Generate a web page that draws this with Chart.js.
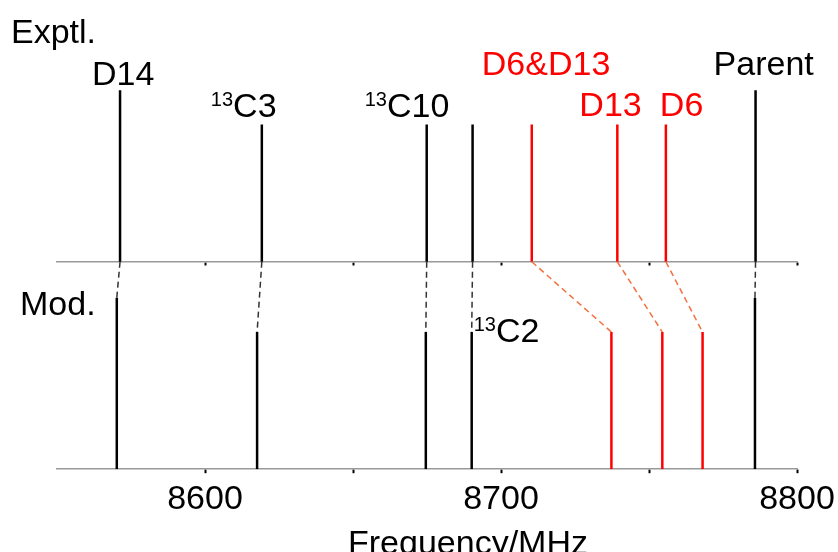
<!DOCTYPE html>
<html lang="en">
<head>
    <meta charset="UTF-8">
    <title>Exptl. vs Mod.</title>
    <script src="https://cdn.jsdelivr.net/npm/chart.js"></script>
    <style>
        html, body {
            margin: 0;
            padding: 0;
            background: #fff;
        }
        #wrap {
            width: 838px;
            height: 552px;
        }
    </style>
</head>
<body>
    <div id="wrap">
        <canvas id="spectrum" width="838" height="552"></canvas>
    </div>

    <script>
        // Line names, frequencies (MHz) and relative intensities
        const lineNames = ['D14', '13C3', '13C10', '13C2', 'D6&D13', 'D13', 'D6', 'Parent'];
        const exptFreq = [8571.3, 8619.2, 8674.9, 8690.4, 8710.4, 8739.3, 8755.7, 8786.0];
        const exptInt = [1.0, 0.8, 0.8, 0.8, 0.8, 0.8, 0.8, 1.0];
        const modFreq = [8570.2, 8617.6, 8674.6, 8690.1, 8737.3, 8754.5, 8768.1, 8785.8];
        const modInt = [1.0, 0.8, 0.8, 0.8, 0.8, 0.8, 0.8, 1.0];
        const isRed = [false, false, false, false, true, true, true, false];

        const tickValues = [8600, 8650, 8700, 8750, 8800];
        const labeledTicks = [8600, 8700, 8800];

        const X_MIN = 8550, X_MAX = 8800;
        const Y_MAX = 2.62;      // top of the plot area
        const TOP_BASE = 1.21;   // baseline of the experimental panel

        const FONT = "'Liberation Sans', Arial, sans-serif";
        const RED = '#ff0000';
        const ORANGE = '#f2703f';

        // turn [x1, y1, x2, y2] pairs into one line with gaps
        function segments(pairs) {
            const pts = [];
            pairs.forEach(([x1, y1, x2, y2]) => {
                pts.push({ x: x1, y: y1 }, { x: x2, y: y2 }, { x: x2, y: null });
            });
            return pts;
        }

        const idx = lineNames.map((n, i) => i);
        const blackIdx = idx.filter(i => !isRed[i]);
        const redIdx = idx.filter(i => isRed[i]);

        const exptSticks = list => segments(list.map(i => [exptFreq[i], TOP_BASE, exptFreq[i], TOP_BASE + exptInt[i]]));
        const modSticks = list => segments(list.map(i => [modFreq[i], 0, modFreq[i], modInt[i]]));
        const links = list => segments(list.map(i => [exptFreq[i], TOP_BASE, modFreq[i], modInt[i]]));

        const baseLine = { type: 'line', pointRadius: 0, spanGaps: false, tension: 0, fill: false };

        // label placement: index of line, panel, offset from stick (px), baseline (px)
        const labelPlaces = [
            { i: 0, panel: 'expt', dx: -28, y: 85, sup: '', text: 'D14' },
            { i: 1, panel: 'expt', dx: -51, y: 117, sup: '13', text: 'C3' },
            { i: 2, panel: 'expt', dx: -62, y: 117, sup: '13', text: 'C10' },
            { i: 4, panel: 'expt', dx: -50, y: 75, sup: '', text: 'D6&D13' },
            { i: 5, panel: 'expt', dx: -38, y: 116, sup: '', text: 'D13' },
            { i: 6, panel: 'expt', dx: -6, y: 116, sup: '', text: 'D6' },
            { i: 7, panel: 'expt', dx: -42, y: 75, sup: '', text: 'Parent' },
            { i: 3, panel: 'mod', dx: 2, y: 342, sup: '13', text: 'C2' }
        ];

        const textPlugin = {
            id: 'spectrumText',
            afterDraw(chart) {
                const ctx = chart.ctx;
                const xs = chart.scales.x;
                ctx.save();
                ctx.textBaseline = 'alphabetic';
                ctx.textAlign = 'left';
                ctx.fillStyle = '#000';
                ctx.font = '34px ' + FONT;
                ctx.fillText('Exptl.', 11, 43);
                ctx.fillText('Mod.', 20, 315);

                labelPlaces.forEach(p => {
                    const f = p.panel === 'expt' ? exptFreq[p.i] : modFreq[p.i];
                    let x = xs.getPixelForValue(f) + p.dx;
                    ctx.fillStyle = isRed[p.i] ? RED : '#000';
                    if (p.sup) {
                        ctx.font = '20px ' + FONT;
                        ctx.fillText(p.sup, x, p.y - 11);
                        x += ctx.measureText(p.sup).width;
                    }
                    ctx.font = '34px ' + FONT;
                    ctx.fillText(p.text, x, p.y);
                });

                ctx.fillStyle = '#000';
                ctx.textAlign = 'center';
                ctx.fillText('Frequency/MHz', 468, 554);
                ctx.restore();
            }
        };

        const setTicks = axis => {
            axis.ticks = tickValues.map(v => ({ value: v }));
        };

        new Chart(document.getElementById('spectrum'), {
            type: 'line',
            data: {
                datasets: [
                    Object.assign({}, baseLine, { data: links(blackIdx), borderColor: '#333', borderWidth: 1.5, borderDash: [6, 4] }),
                    Object.assign({}, baseLine, { data: links(redIdx), borderColor: ORANGE, borderWidth: 1.5, borderDash: [6, 4] }),
                    Object.assign({}, baseLine, { data: exptSticks(blackIdx), borderColor: '#000', borderWidth: 2.5 }),
                    Object.assign({}, baseLine, { data: exptSticks(redIdx), borderColor: RED, borderWidth: 2.5 }),
                    Object.assign({}, baseLine, { data: modSticks(blackIdx), borderColor: '#000', borderWidth: 2.5 }),
                    Object.assign({}, baseLine, { data: modSticks(redIdx), borderColor: RED, borderWidth: 2.5 })
                ]
            },
            options: {
                responsive: false,
                animation: false,
                layout: {
                    padding: { left: 57, right: 41, top: 20, bottom: 26 }
                },
                plugins: {
                    legend: { display: false },
                    tooltip: { enabled: false }
                },
                scales: {
                    x: {
                        type: 'linear',
                        position: 'bottom',
                        min: X_MIN,
                        max: X_MAX,
                        afterBuildTicks: setTicks,
                        afterFit: s => {
                            // let the 8800 label hang past the plot edge
                            s.paddingLeft = 0;
                            s.paddingRight = 0;
                        },
                        grid: {
                            drawOnChartArea: false,
                            drawTicks: true,
                            tickLength: 4,
                            tickWidth: 2,
                            tickColor: '#000'
                        },
                        border: { color: '#999', width: 1.5 },
                        ticks: {
                            padding: 6,
                            maxRotation: 0,
                            autoSkip: false,
                            color: '#000',
                            font: { family: FONT, size: 34 },
                            callback: v => labeledTicks.includes(v) ? String(v) : ''
                        }
                    },
                    xTop: {
                        type: 'linear',
                        position: { y: TOP_BASE },
                        min: X_MIN,
                        max: X_MAX,
                        afterBuildTicks: setTicks,
                        grid: {
                            drawOnChartArea: false,
                            drawTicks: true,
                            tickLength: 3,
                            tickWidth: 2,
                            tickColor: '#000'
                        },
                        border: { color: '#999', width: 1.5 },
                        ticks: { display: false }
                    },
                    y: {
                        type: 'linear',
                        display: false,
                        min: 0,
                        max: Y_MAX
                    }
                }
            },
            plugins: [textPlugin]
        });
    </script>
</body>
</html>
